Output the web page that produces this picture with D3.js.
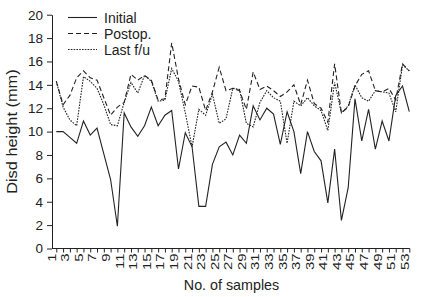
<!DOCTYPE html>
<html><head><meta charset="utf-8">
<script src="https://cdn.jsdelivr.net/npm/d3@7"></script>
<style>
html,body{margin:0;padding:0;background:#fff;}
svg{display:block;font-family:"Liberation Sans",Arial,sans-serif;}
</style></head>
<body><svg id="c" width="422" height="297"></svg>
<script>
const samples = d3.range(1, 54);
const xTickLabels = d3.range(1, 54, 2);
const yTicks = [0, 2, 4, 6, 8, 10, 12, 14, 16, 18, 20];
const initial = [10.0,10.0,9.5,9.0,10.9,9.7,10.3,8.1,5.9,1.9,11.6,10.4,9.6,10.5,12.1,10.5,11.4,11.8,6.8,9.9,8.7,3.6,3.6,7.2,8.7,9.1,8.0,9.7,9.0,12.2,11.0,12.0,11.5,8.9,11.7,10.0,6.4,10.0,8.3,7.5,3.9,8.5,2.4,5.2,12.8,9.2,11.9,8.5,10.9,9.2,13.1,13.9,11.7];
const postop = [14.3,12.3,13.1,14.6,15.2,14.6,14.4,12.9,11.4,12.1,12.5,14.9,14.4,14.8,14.4,12.7,12.8,17.6,14.5,12.3,13.9,13.8,11.8,13.4,15.5,13.5,13.7,13.5,11.9,15.1,13.6,13.9,13.5,13.0,13.4,14.0,12.3,14.4,12.4,12.0,10.8,15.8,11.6,12.1,13.9,14.9,15.2,13.5,13.4,13.7,12.7,15.8,15.2];
const lastfu = [14.3,12.1,11.0,10.5,14.7,14.3,13.7,12.3,10.6,10.5,12.5,14.2,13.3,14.8,14.3,12.6,12.7,15.4,14.3,11.6,8.7,11.9,11.4,13.2,10.7,11.1,13.7,13.6,10.7,10.4,12.5,13.5,12.9,12.6,9.0,12.6,12.2,12.9,12.2,11.8,10.1,14.2,11.6,12.2,14.0,12.9,12.6,13.5,13.4,13.3,11.7,15.7,15.2];
const seriesNames = ["Initial", "Postop.", "Last f/u"];
const seriesDash = [null, "5,3", "1.6,1.2"];
const seriesData = [initial, postop, lastfu];

const svg = d3.select("#c");
const x = d3.scaleLinear().domain([1, 53]).range([56.3, 409.3]);
const y = d3.scaleLinear().domain([0, 20]).range([248.5, 14.7]);
const axisLeftX = 52;

// Y axis
const ya = svg.append("g").attr("transform", `translate(${axisLeftX},0)`)
  .call(d3.axisLeft(y).tickValues(yTicks).tickSize(5).tickPadding(4).tickSizeOuter(0));
ya.select(".domain").attr("stroke", "#222");
ya.selectAll(".tick line").attr("stroke", "#222");
ya.selectAll("text").attr("font-size", 13.5).attr("fill", "#222").attr("font-family", "Liberation Sans, Arial, sans-serif");

// X axis
const xa = svg.append("g").attr("transform", `translate(0,${y(0)})`)
  .call(d3.axisBottom(x).tickValues(samples).tickSize(4).tickSizeOuter(0).tickFormat(""));
xa.select(".domain").remove();
xa.selectAll(".tick line").attr("stroke", "#222");
svg.append("line").attr("x1", axisLeftX).attr("x2", x(53) + 0.5).attr("y1", y(0)).attr("y2", y(0)).attr("stroke", "#222");

svg.append("g").selectAll("text").data(xTickLabels).join("text")
  .attr("transform", d => `translate(${x(d)},${y(0) + 5}) rotate(-90) scale(1.3,1)`)
  .attr("text-anchor", "end")
  .attr("dy", "-0.05em")
  .attr("font-size", 11.5)
  .attr("fill", "#222")
  .text(d => d);

// Axis titles
svg.append("text").attr("x", 231.5).attr("y", 290).attr("text-anchor", "middle")
  .attr("font-size", 14.3).attr("fill", "#222").text("No. of samples");
svg.append("text").attr("transform", `translate(17,${(y(0) + y(20)) / 2}) rotate(-90) scale(1.17,1)`)
  .attr("text-anchor", "middle").attr("font-size", 14).attr("fill", "#222").text("Disd height (mm)");

// Lines
const line = d3.line().x((d, i) => x(samples[i])).y(d => y(d));
seriesData.forEach((s, k) => {
  svg.append("path").datum(s).attr("d", line).attr("fill", "none")
    .attr("stroke", "#222").attr("stroke-width", 1.1)
    .attr("stroke-dasharray", seriesDash[k]);
});

// Legend
const legY = [17.5, 33.5, 49.5];
seriesNames.forEach((n, k) => {
  svg.append("line").attr("x1", 68).attr("x2", 97).attr("y1", legY[k]).attr("y2", legY[k])
    .attr("stroke", "#222").attr("stroke-width", 1.1).attr("stroke-dasharray", seriesDash[k]);
  svg.append("text").attr("x", 104).attr("y", legY[k]).attr("dy", "0.36em")
    .attr("font-size", 14).attr("fill", "#222").text(n);
});
</script></body></html>
